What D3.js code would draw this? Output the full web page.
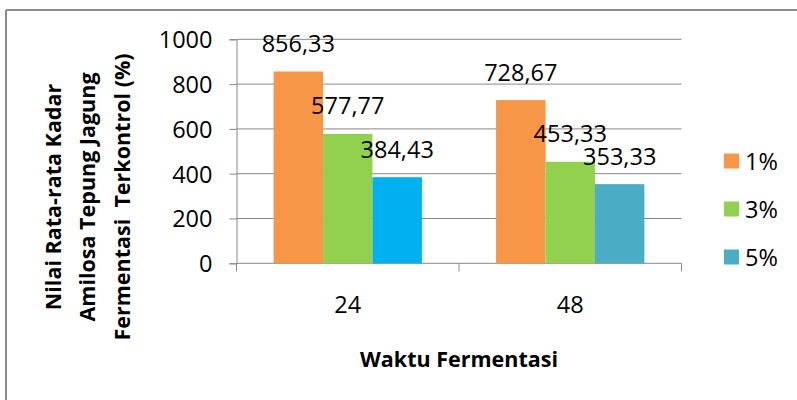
<!DOCTYPE html>
<html><head><meta charset="utf-8">
<script src="https://cdn.jsdelivr.net/npm/d3@7"></script>
<style>body{margin:0;background:#fff}svg{display:block}</style>
</head><body>
<svg id="c" width="797" height="400"></svg>
<script>
const categories = ["24", "48"];
const seriesNames = ["1%", "3%", "5%"];
const values1 = [856.33, 728.67];
const values3 = [577.77, 453.33];
const values5 = [384.43, 353.33];
const labels1 = ["856,33", "728,67"];
const labels3 = ["577,77", "453,33"];
const labels5 = ["384,43", "353,33"];
const yTicks = [0, 200, 400, 600, 800, 1000];
const seriesColors = ["#F79646", "#92D050", "#4BACC6"];
const pointColors5 = ["#00B0F0", "#4BACC6"];

const series = [
  {name: seriesNames[0], values: values1, labels: labels1, colors: [seriesColors[0], seriesColors[0]]},
  {name: seriesNames[1], values: values3, labels: labels3, colors: [seriesColors[1], seriesColors[1]]},
  {name: seriesNames[2], values: values5, labels: labels5, colors: pointColors5}
];

const svg = d3.select("#c");
const font = "'Open Sans', 'Liberation Sans', sans-serif";
const fs = 23.5;

// outer frame (top and left visible)
svg.append("line").attr("x1", 6).attr("x2", 797).attr("y1", 10).attr("y2", 10).attr("stroke", "#8c8c8c").attr("stroke-width", 2);
svg.append("line").attr("x1", 6).attr("x2", 6).attr("y1", 10).attr("y2", 400).attr("stroke", "#8c8c8c").attr("stroke-width", 2);

const pLeft = 236.5, pRight = 681.5, pTop = 39.3, pBottom = 263.3;
const x = d3.scaleBand().domain(categories).range([pLeft, pRight]).paddingInner(0).paddingOuter(0);
const y = d3.scaleLinear().domain([0, 1000]).range([pBottom, pTop]);
const bw = x.bandwidth() / 4.5;
const xs = d3.scaleBand().domain(seriesNames).range([0, bw * 3]);

// gridlines
svg.append("g").selectAll("line").data(yTicks.filter(d => d > 0)).join("line")
  .attr("x1", pLeft).attr("x2", pRight)
  .attr("y1", d => y(d)).attr("y2", d => y(d))
  .attr("stroke", "#878787").attr("stroke-width", 1);

// y axis
const yAxis = d3.axisLeft(y).tickValues(yTicks).tickSize(7).tickPadding(17).tickFormat(d3.format("d"));
const gy = svg.append("g").attr("transform", `translate(${pLeft},0)`).call(yAxis);
gy.select(".domain").attr("stroke", "#878787");
gy.selectAll(".tick line").attr("stroke", "#878787");
gy.selectAll("text").attr("font-family", font).attr("font-size", fs).attr("fill", "#000").attr("dy", "0.36em");

// x axis
const gxAxis = svg.append("g").attr("transform", `translate(0,${pBottom})`);
gxAxis.append("line").attr("x1", pLeft).attr("x2", pRight).attr("y1", 0).attr("y2", 0).attr("stroke", "#878787");
const bounds = [pLeft, pLeft + x.bandwidth(), pRight];
gxAxis.selectAll("line.t").data(bounds).join("line").attr("class", "t")
  .attr("x1", d => d).attr("x2", d => d).attr("y1", 0).attr("y2", 8).attr("stroke", "#878787");
gxAxis.selectAll("text").data(categories).join("text")
  .attr("x", d => x(d) + x.bandwidth() / 2).attr("y", 50)
  .attr("text-anchor", "middle").attr("font-family", font).attr("font-size", fs).attr("fill", "#000")
  .text(d => d);

// bars
const groupOffset = (x.bandwidth() - bw * 3) / 2;
series.forEach(s => {
  const g = svg.append("g");
  g.selectAll("rect").data(categories).join("rect")
    .attr("x", (c) => x(c) + groupOffset + xs(s.name))
    .attr("width", bw)
    .attr("y", (c, i) => y(s.values[i]))
    .attr("height", (c, i) => y(0) - y(s.values[i]))
    .attr("fill", (c, i) => s.colors[i]);
});
// labels on top
series.forEach(s => {
  svg.append("g").selectAll("text").data(categories).join("text")
    .attr("x", (c) => x(c) + groupOffset + xs(s.name) + bw / 2)
    .attr("y", (c, i) => y(s.values[i]) - 19.5)
    .attr("text-anchor", "middle").attr("font-family", font).attr("font-size", fs).attr("fill", "#000")
    .text((c, i) => s.labels[i]);
});

// y title
const yt = svg.append("text").attr("transform", "translate(88,197) rotate(-90)")
  .attr("text-anchor", "middle").attr("font-family", font).attr("font-size", 21.5).attr("font-weight", "bold").attr("fill", "#000");
["Nilai Rata-rata Kadar", "Amilosa Tepung Jagung", "Fermentasi\u00a0\u00a0Terkontrol (%)"].forEach((t, i) => {
  yt.append("tspan").attr("x", 0).attr("y", (i - 1) * 34.5 + 7).text(t);
});

// x title
svg.append("text").attr("x", (pLeft + pRight) / 2).attr("y", 367)
  .attr("text-anchor", "middle").attr("font-family", font).attr("font-size", 21.5).attr("font-weight", "bold").attr("fill", "#000")
  .text("Waktu Fermentasi");

// legend
const lg = svg.append("g");
seriesNames.forEach((n, i) => {
  const yy = 153.5 + i * 48;
  lg.append("rect").attr("x", 724).attr("y", yy).attr("width", 15).attr("height", 15).attr("fill", seriesColors[i]);
  lg.append("text").attr("x", 745).attr("y", yy + 16).attr("font-family", font).attr("font-size", fs).attr("fill", "#000").text(n);
});
</script>
</body></html>
